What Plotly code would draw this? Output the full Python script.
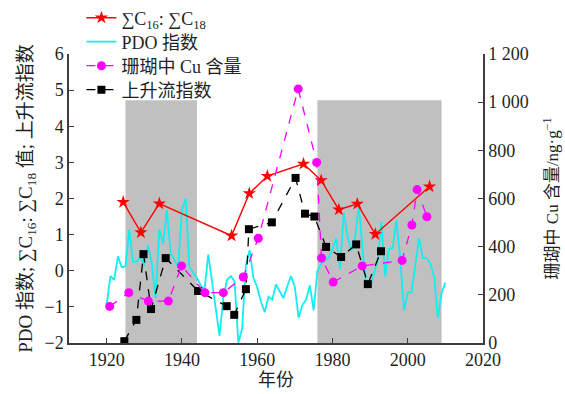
import plotly.graph_objects as go

# ∑C16:∑C18 ratio
ratio_years = [1924.4, 1929.1, 1934.0, 1953.2, 1957.9, 1962.7, 1972.3, 1977.0,
               1981.7, 1986.6, 1991.4, 2005.8]
ratio_vals = [1.90, 1.06, 1.86, 0.97, 2.14, 2.62, 2.96, 2.50, 1.69, 1.85, 1.01, 2.33]

# PDO index, annual
pdo_years = list(range(1920, 2011))
pdo_vals = [-0.95, -0.15, -0.25, 0.40, 0.10, 0.12, 1.13, 0.25, 0.25, 0.40,
            0.15, 0.70, 0.20, -0.75, 1.15, 0.75, 1.68, 0.50, 0.30, 0.10,
            1.70, 2.00, 0.10, -0.05, -0.20, -0.40, -0.53, 0.45, -0.30, -1.00,
            -1.80, -0.75, -0.25, -0.15, -0.30, -2.00, -1.60, 0.15, 0.57, -0.20,
            -0.45, -0.85, -1.15, -0.72, -0.80, -0.38, -0.55, -0.76, -0.42, -0.15,
            -0.45, -1.30, -0.95, -0.80, -0.40, -1.10, 0.00, 0.20, 0.30, 0.35,
            0.60, 0.90, 0.05, 1.60, 0.95, 0.55, 0.90, 1.80, 0.60, -0.45,
            -0.45, -0.10, 0.30, 1.35, -0.15, 0.60, 0.62, 1.40, 0.35, -1.10,
            -0.60, -0.60, 0.20, 0.90, 0.35, 0.35, 0.20, -0.15, -1.30, -0.62,
            -0.33]

# Cu content in coral (ng/g)
cu_years = [1920.8, 1925.9, 1931.1, 1936.4, 1939.9, 1946.1, 1951.0, 1956.3, 1960.3,
            1970.9, 1975.8, 1977.1, 1980.2, 1987.9, 1998.5, 2001.1, 2002.5, 2005.1]
cu_vals = [152, 209, 174, 174, 320, 209, 209, 274, 435,
           1055, 750, 353, 253, 320, 343, 490, 637, 524]

# Upwelling index
up_years = [1924.7, 1927.9, 1929.8, 1931.8, 1935.7, 1944.3, 1951.9, 1953.9, 1957.0,
            1957.8, 1963.9, 1970.2, 1972.7, 1975.2, 1978.3, 1982.3, 1986.3, 1989.4, 1992.9]
up_vals = [-1.95, -1.36, 0.46, -1.06, 0.35, -0.56, -0.98, -1.22, -0.51,
           1.15, 1.34, 2.57, 1.58, 1.50, 0.66, 0.38, 0.73, -0.37, 0.54]

# shaded periods
shade_periods = [(1925, 1944), (1976, 2009)]
shade_top = 4.72

x_ticks = [1920, 1940, 1960, 1980, 2000, 2020]
cu_ticks = [0, 200, 400, 600, 800, 1000, 1200]
cu_ticktext = ["0", "200", "400", "600", "800", "1 000", "1 200"]

FONT = "Liberation Serif, Noto Sans CJK SC, serif"
AXIS_COLOR = "#433b3b"

fig = go.Figure()

fig.add_trace(go.Scatter(
    x=pdo_years, y=pdo_vals, mode="lines", name="PDO 指数",
    line=dict(color="#12eef0", width=1.8), legend="legend2"))

fig.add_trace(go.Scatter(
    x=cu_years, y=cu_vals, mode="lines+markers", name="珊瑚中 Cu 含量",
    yaxis="y2", line=dict(color="#ff00ff", width=1.3, dash="dash"),
    marker=dict(symbol="circle", size=9, color="#ff00ff"), legend="legend3"))

fig.add_trace(go.Scatter(
    x=up_years, y=up_vals, mode="lines+markers", name="上升流指数",
    line=dict(color="black", width=1.3, dash="dash"),
    marker=dict(symbol="square", size=8, color="black"), legend="legend4"))

fig.add_trace(go.Scatter(
    x=ratio_years, y=ratio_vals, mode="lines+markers",
    name="∑C<sub>16</sub>: ∑C<sub>18</sub>",
    line=dict(color="#ff0000", width=1.4),
    marker=dict(symbol="star", size=10, color="#ff0000"), legend="legend"))

for x0, x1 in shade_periods:
    fig.add_shape(type="rect", xref="x", yref="y", x0=x0, x1=x1, y0=-2, y1=shade_top,
                  fillcolor="#c0c0c0", line=dict(width=0), layer="below")


def legend_box(y):
    return dict(x=0.03, y=y, xanchor="left", yanchor="middle",
                bgcolor="rgba(0,0,0,0)", borderwidth=0, font=dict(size=18))


fig.update_layout(
    width=565, height=394,
    margin=dict(l=69, r=82, t=54, b=51, autoexpand=False),
    paper_bgcolor="white", plot_bgcolor="white",
    font=dict(family=FONT, size=18, color="#231f1f"),
    showlegend=True,
    legend=legend_box(1.1246),
    legend2=legend_box(1.0415),
    legend3=legend_box(0.9585),
    legend4=legend_box(0.8754),
    xaxis=dict(range=[1910, 2020], tickvals=x_ticks, ticks="inside", ticklen=5,
               showline=True, linecolor=AXIS_COLOR, linewidth=1.5,
               tickcolor=AXIS_COLOR, showgrid=False, zeroline=False,
               tickfont=dict(size=18),
               title=dict(text="年份", font=dict(size=18), standoff=2)),
    yaxis=dict(range=[-2, 6], dtick=1, tick0=0, ticks="inside", ticklen=5,
               showline=True, linecolor=AXIS_COLOR, linewidth=1.5,
               tickcolor=AXIS_COLOR, showgrid=False, zeroline=False,
               tickfont=dict(size=18),
               title=dict(text="PDO 指数; ∑C<sub>16</sub>: ∑C<sub>18</sub> 值; 上升流指数",
                          font=dict(size=19), standoff=7)),
    yaxis2=dict(range=[0, 1200], tickvals=cu_ticks, ticktext=cu_ticktext,
                overlaying="y", side="right", ticks="inside", ticklen=5,
                showline=True, linecolor=AXIS_COLOR, linewidth=1.5,
                tickcolor=AXIS_COLOR, showgrid=False, zeroline=False,
                tickfont=dict(size=18),
                title=dict(text="珊瑚中 Cu 含量/ng·g<sup>−1</sup>",
                           font=dict(size=17), standoff=18)),
)

fig.write_html("out.html")
